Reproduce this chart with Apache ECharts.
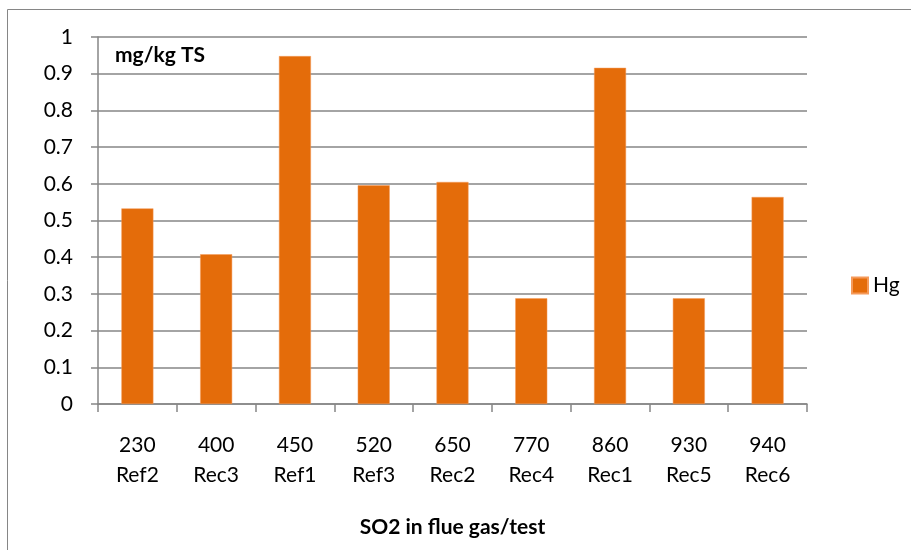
<!DOCTYPE html>
<html>
<head>
<meta charset="utf-8">
<script src="https://cdn.jsdelivr.net/npm/echarts@6/dist/echarts.min.js"></script>
<style>
  html, body { margin: 0; padding: 0; background: #fff; }
  #chart { width: 911px; height: 550px; }
</style>
</head>
<body>
<div id="chart"></div>
<script>
const so2Levels = ['230', '400', '450', '520', '650', '770', '860', '930', '940'];
const testNames = ['Ref2', 'Rec3', 'Ref1', 'Ref3', 'Rec2', 'Rec4', 'Rec1', 'Rec5', 'Rec6'];
const hgValues = [0.533, 0.408, 0.948, 0.596, 0.605, 0.288, 0.916, 0.288, 0.564];
const yTicks = [0, 0.1, 0.2, 0.3, 0.4, 0.5, 0.6, 0.7, 0.8, 0.9, 1];

const categories = so2Levels.map((v, i) => v + '\n' + testNames[i]);

const font = 'Lato, "Open Sans", sans-serif';
const grey = '#868686';
const orange = '#E46C0A';

const chart = echarts.init(document.getElementById('chart'));

chart.setOption({
  animation: false,
  textStyle: { fontFamily: font },
  graphic: [{
    type: 'rect',
    shape: { x: 7.5, y: 9.5, width: 1200, height: 1200 },
    style: { fill: 'none', stroke: grey, lineWidth: 1 },
    silent: true
  }, {
    type: 'text',
    left: 115,
    top: 45,
    style: { text: 'mg/kg TS', font: 'bold 21px ' + font, fill: '#000' }
  }],
  grid: { left: 98, right: 104, top: 37, bottom: 146, containLabel: false },
  legend: {
    data: ['Hg'],
    left: 846,
    top: 270,
    orient: 'vertical',
    itemWidth: 16,
    itemHeight: 16,
    itemGap: 6,
    textStyle: { fontFamily: font, fontSize: 21, color: '#000', padding: [0, 0, 0, 0] },
    icon: 'rect'
  },
  xAxis: {
    type: 'category',
    data: categories,
    name: 'SO2 in flue gas/test',
    nameLocation: 'middle',
    nameGap: 113,
    nameTextStyle: { fontFamily: font, fontSize: 21, fontWeight: 'bold', color: '#000' },
    axisLine: { lineStyle: { color: grey, width: 1.5 } },
    axisTick: { show: true, length: 8, lineStyle: { color: grey, width: 1.5 } },
    axisLabel: { color: '#000', fontFamily: font, fontSize: 21, lineHeight: 30, margin: 26, interval: 0 }
  },
  yAxis: {
    type: 'value',
    min: 0,
    max: 1,
    interval: 0.1,
    axisLine: { show: true, lineStyle: { color: grey, width: 1.5 } },
    axisTick: { show: true, length: 7, lineStyle: { color: grey, width: 1.5 } },
    splitLine: { lineStyle: { color: grey, width: 1.5 } },
    axisLabel: {
      color: '#000', fontFamily: font, fontSize: 21, margin: 25,
      formatter: v => {
        const t = yTicks.find(x => Math.abs(x - v) < 1e-6);
        return t === undefined ? '' : String(t);
      }
    }
  },
  series: [{
    name: 'Hg',
    type: 'bar',
    data: hgValues,
    barWidth: 32,
    itemStyle: { color: orange, borderColor: '#F59A5A', borderWidth: 0.5 }
  }]
});
</script>
</body>
</html>
